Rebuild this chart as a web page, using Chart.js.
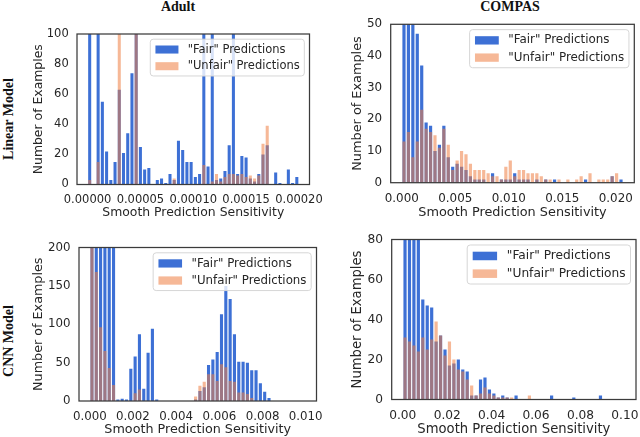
<!DOCTYPE html>
<html>
<head>
<meta charset="utf-8">
<script src="https://cdn.jsdelivr.net/npm/chart.js"></script>
<style>
  html, body { margin: 0; padding: 0; background: #fff; overflow: hidden; }
  #page { position: relative; width: 640px; height: 437px; overflow: hidden; }
  canvas { position: absolute; }
  .col-title, .row-title {
    position: absolute; white-space: nowrap; color: #111;
    font-family: 'Liberation Serif', 'Times New Roman', serif; font-weight: bold; font-size: 14px;
  }
  .col-title { transform: translateX(-50%); }
  .row-title { transform: translate(-50%, -50%) rotate(-90deg); }
</style>
</head>
<body>
<div id="page">
  <div class="col-title" style="left:178px; top:-1px">Adult</div>
  <div class="col-title" style="left:510px; top:-1px">COMPAS</div>
  <div class="row-title" style="left:9px; top:119px">Linear Model</div>
  <div class="row-title" style="left:9px; top:341px">CNN Model</div>
  <canvas id="adultLinear"></canvas>
  <canvas id="compasLinear"></canvas>
  <canvas id="adultCnn"></canvas>
  <canvas id="compasCnn"></canvas>
</div>
<script>
const seriesLabels = ['"Fair" Predictions', '"Unfair" Predictions'];

// histograms, 50 bins each, range = [first bin edge, last bin edge]
const adultLinearRange = [0, 0.0002];
const adultLinearFair = [
  180, 0, 160, 55, 22, 3, 15, 63, 21, 34,
  74, 130, 25, 10, 11, 0, 3, 4, 1, 7,
  3, 29, 23, 15, 15, 5, 7, 150, 12, 140,
  3, 4, 9, 26, 120, 7, 19, 18, 4, 2,
  7, 20, 26, 0, 8, 1, 0, 10, 1, 5];
const adultLinearUnfair = [
  3, 0, 15, 0, 0, 0, 0, 110, 0, 0,
  0, 105, 0, 0, 0, 0, 0, 0, 0, 0,
  4, 0, 0, 0, 0, 0, 0, 13, 0, 2,
  7, 2, 5, 7, 7, 6, 7, 5, 6, 4,
  6, 27, 39, 0, 0, 0, 0, 0, 0, 0];
const adultLinearXTicks = ['0.00000', '0.00005', '0.00010', '0.00015', '0.00020'];
const adultLinearYTicks = [0, 20, 40, 60, 80, 100];

const compasLinearRange = [0, 0.0207];
const compasLinearFair = [
  90, 80, 70, 47, 37, 19, 18, 10, 12, 18,
  8, 5, 6, 5, 4, 2, 1, 1, 1, 0,
  3, 0, 1, 1, 1, 3, 1, 1, 1, 0,
  1, 0, 1, 0, 1, 0, 0, 0, 0, 0,
  0, 1, 0, 0, 0, 0, 0, 2, 0, 1];
const compasLinearUnfair = [
  13, 16, 8, 13, 23, 17, 16, 15, 11, 17,
  12, 4, 7, 10, 9, 6, 4, 4, 4, 3,
  2, 2, 1, 5, 7, 2, 4, 4, 3, 3,
  3, 2, 1, 1, 0, 1, 0, 1, 0, 1,
  2, 0, 3, 0, 1, 1, 1, 2, 3, 0];
const compasLinearXTicks = ['0.000', '0.005', '0.010', '0.015', '0.020'];
const compasLinearYTicks = [0, 10, 20, 30, 40, 50];

const adultCnnRange = [0, 0.01];
const adultCnnFair = [
  260, 240, 230, 220, 215, 210, 2, 3, 2, 42,
  58, 87, 16, 63, 94, 2, 0, 0, 0, 0,
  0, 0, 0, 0, 2, 13, 18, 47, 54, 64,
  113, 150, 133, 87, 51, 51, 50, 40, 40, 23,
  12, 4, 0, 0, 0, 0, 0, 0, 0, 0];
const adultCnnUnfair = [
  230, 168, 96, 65, 43, 21, 0, 0, 0, 0,
  10, 15, 0, 0, 0, 0, 0, 0, 0, 0,
  0, 0, 0, 0, 6, 20, 25, 35, 35, 26,
  48, 44, 26, 25, 11, 11, 9, 4, 0, 0,
  0, 0, 0, 0, 0, 0, 0, 0, 0, 0];
const adultCnnXTicks = ['0.000', '0.002', '0.004', '0.006', '0.008', '0.010'];
const adultCnnYTicks = [0, 50, 100, 150, 200];

const compasCnnRange = [0, 0.1];
const compasCnnFair = [
  150, 120, 100, 90, 50, 47, 46, 29, 32, 25,
  17, 18, 20, 15, 14, 2, 2, 10, 11, 5,
  3, 1, 2, 1, 0, 2, 0, 0, 0, 0,
  0, 0, 0, 2, 0, 0, 0, 0, 1, 0,
  0, 0, 0, 0, 2, 0, 0, 0, 0, 0];
const compasCnnUnfair = [
  31, 29, 27, 24, 31, 25, 30, 39, 32, 22,
  29, 20, 15, 14, 10, 7, 2, 3, 6, 3,
  2, 1, 1, 1, 1, 0, 0, 0, 2, 0,
  0, 0, 0, 0, 0, 0, 0, 0, 0, 0,
  0, 0, 0, 0, 0, 0, 0, 0, 0, 0];
const compasCnnXTicks = ['0.00', '0.02', '0.04', '0.06', '0.08', '0.10'];
const compasCnnYTicks = [0, 20, 40, 60, 80];

const fairColor = '#3d70d5';
const unfairColor = 'rgba(238,125,66,0.55)';
const textColor = '#262626';

// page layout: canvas box [left, top, width, height], plot area [left, top, right, bottom]
const panels = [
  { id: 'adultLinear', box: [26, 10, 314, 212], area: [77, 34, 309.5, 184.5], yTitleX: 38.3, xTitleY: 212.5, fs: 11.5,
    range: adultLinearRange, fair: adultLinearFair, unfair: adultLinearUnfair, xTicks: adultLinearXTicks, yTicks: adultLinearYTicks },
  { id: 'compasLinear', box: [345, 4, 315, 218], area: [390.7, 24.3, 634.3, 182.7], yTitleX: 357.5, xTitleY: 212.5, fs: 11.9,
    range: compasLinearRange, fair: compasLinearFair, unfair: compasLinearUnfair, xTicks: compasLinearXTicks, yTicks: compasLinearYTicks },
  { id: 'adultCnn', box: [26, 228, 314, 212], area: [79, 247.5, 316.5, 401], yTitleX: 39, xTitleY: 430, fs: 11.8,
    range: adultCnnRange, fair: adultCnnFair, unfair: adultCnnUnfair, xTicks: adultCnnXTicks, yTicks: adultCnnYTicks },
  { id: 'compasCnn', box: [345, 222, 315, 218], area: [391.7, 239.5, 636, 399.5], yTitleX: 357.5, xTitleY: 430, fs: 12.2,
    range: compasCnnRange, fair: compasCnnFair, unfair: compasCnnUnfair, xTicks: compasCnnXTicks, yTicks: compasCnnYTicks },
];

const framePlugin = {
  id: 'frame',
  afterDatasetsDraw(chart) {
    const { ctx, chartArea: a } = chart;
    ctx.save();
    ctx.strokeStyle = '#3b3b3b';
    ctx.lineWidth = 1.25;
    ctx.strokeRect(a.left, a.top, a.right - a.left, a.bottom - a.top);
    ctx.restore();
  }
};

// matplotlib-like legend in the upper right corner of the plot
const insideLegend = {
  id: 'insideLegend',
  afterDraw(chart, args, opts) {
    const { ctx, chartArea: a } = chart;
    const fs = opts.fontSize;
    ctx.save();
    ctx.font = fs + 'px "DejaVu Sans"';
    const textW = Math.max(...opts.items.map(it => ctx.measureText(it.text).width));
    const w = fs * 3.25 + textW + fs * 0.4;
    const h = fs * 3.2;
    const x = a.right - fs * 0.45 - w;
    const y = a.top + fs * 0.45;
    ctx.beginPath();
    ctx.roundRect(x, y, w, h, 3);
    ctx.fillStyle = 'rgba(255,255,255,0.8)';
    ctx.fill();
    ctx.strokeStyle = '#d6d6d6';
    ctx.lineWidth = 1;
    ctx.stroke();
    opts.items.forEach((it, i) => {
      const cy = y + fs * (0.9 + 1.45 * i);
      ctx.fillStyle = it.color;
      ctx.fillRect(x + fs * 0.45, cy - fs * 0.35, fs * 2, fs * 0.7);
      ctx.fillStyle = textColor;
      ctx.textBaseline = 'middle';
      ctx.fillText(it.text, x + fs * 3.25, cy);
    });
    ctx.restore();
  }
};

const toPoints = (values, range) => {
  const bw = (range[1] - range[0]) / values.length;
  return values.map((v, i) => ({ x: range[0] + (i + 0.5) * bw, y: v }));
};

panels.forEach(p => {
  const [cx, cy, cw, ch] = p.box;
  const [L, T, R, B] = p.area;
  const canvas = document.getElementById(p.id);
  canvas.width = cw;
  canvas.height = ch;
  canvas.style.left = cx + 'px';
  canvas.style.top = cy + 'px';

  const titleSize = p.fs * 1.08;
  const lh = titleSize * 1.2;
  const span = p.range[1] - p.range[0];
  const xTickVals = p.xTicks.map(Number);
  const barOpts = { grouped: false, categoryPercentage: 1, barPercentage: 0.72, borderWidth: 0, clip: 0 };

  new Chart(canvas, {
    type: 'bar',
    data: {
      datasets: [
        { label: seriesLabels[1], data: toPoints(p.unfair, p.range), backgroundColor: unfairColor, order: 0, ...barOpts },
        { label: seriesLabels[0], data: toPoints(p.fair, p.range), backgroundColor: fairColor, order: 1, ...barOpts }
      ]
    },
    options: {
      responsive: false,
      animation: false,
      events: [],
      layout: { padding: { left: 0, top: T - cy, right: cx + cw - R, bottom: 0 } },
      plugins: {
        legend: { display: false },
        tooltip: { enabled: false },
        insideLegend: {
          fontSize: p.fs,
          items: [
            { text: seriesLabels[0], color: fairColor },
            { text: seriesLabels[1], color: unfairColor }
          ]
        }
      },
      scales: {
        x: {
          type: 'linear',
          offset: false,
          min: p.range[0] - 0.05 * span,
          max: p.range[1] + 0.05 * span,
          grid: { display: false, drawTicks: false },
          border: { display: false },
          afterBuildTicks: s => { s.ticks = xTickVals.map(v => ({ value: v })); },
          afterFit: s => { s.height = cy + ch - B; },
          ticks: {
            autoSkip: false, maxRotation: 0, minRotation: 0,
            padding: p.fs * 0.75,
            color: textColor,
            font: { family: 'DejaVu Sans', size: p.fs },
            callback: (v, i) => p.xTicks[i]
          },
          title: {
            display: true,
            text: 'Smooth Prediction Sensitivity',
            color: textColor,
            font: { family: 'DejaVu Sans', size: titleSize },
            padding: { top: 0, bottom: cy + ch - p.xTitleY - lh / 2 }
          }
        },
        y: {
          min: 0,
          max: p.yTicks[p.yTicks.length - 1],
          grid: { display: false, drawTicks: false },
          border: { display: false },
          afterBuildTicks: s => { s.ticks = p.yTicks.map(v => ({ value: v })); },
          afterFit: s => { s.width = L - cx; },
          ticks: {
            padding: p.fs * 0.72,
            color: textColor,
            font: { family: 'DejaVu Sans', size: p.fs },
            callback: v => String(v)
          },
          title: {
            display: true,
            text: 'Number of Examples',
            color: textColor,
            font: { family: 'DejaVu Sans', size: titleSize },
            padding: { top: p.yTitleX - cx - lh / 2, bottom: 0 }
          }
        }
      }
    },
    plugins: [framePlugin, insideLegend]
  });
});
</script>
</body>
</html>
